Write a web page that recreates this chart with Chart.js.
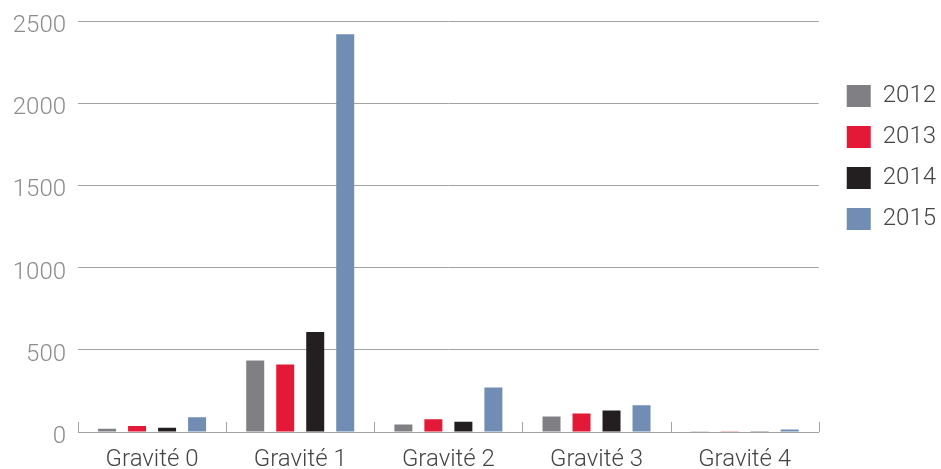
<!DOCTYPE html>
<html>
<head>
<meta charset="utf-8">
<script src="https://cdn.jsdelivr.net/npm/chart.js@4.4.1/dist/chart.umd.min.js"></script>
<style>
    html, body { margin: 0; padding: 0; background: #fff; }
    #wrap { width: 941px; height: 469px; position: relative; }
</style>
</head>
<body>
<div id="wrap"><canvas id="gravity-chart"></canvas></div>
<script>
const categories = ['Gravité 0', 'Gravité 1', 'Gravité 2', 'Gravité 3', 'Gravité 4']
const years = ['2012', '2013', '2014', '2015']
const values2012 = [20, 435, 46, 95, 4]
const values2013 = [36, 411, 77, 113, 4]
const values2014 = [26, 608, 63, 131, 4]
const values2015 = [89, 2420, 271, 162, 15]
const yTicks = [0, 500, 1000, 1500, 2000, 2500]
const colors = ['#808084', '#e31937', '#231f20', '#728db4']

const gridColor = '#a3a3a3'

// little upward ticks between the categories
const categoryTicks = {
    id: 'categoryTicks',
    afterLayout(chart) {
        // push the legend a bit further from the plot
        chart.legend.left += 11
        chart.legend.right += 11
    },
    afterDraw(chart) {
        const area = chart.chartArea
        const n = categories.length
        const step = (area.right - area.left) / n
        const ctx = chart.ctx
        ctx.save()
        ctx.strokeStyle = gridColor
        ctx.lineWidth = 1
        for (let i = 0; i <= n; i++) {
            const x = Math.round(area.left + i * step) + 0.5
            ctx.beginPath()
            ctx.moveTo(x, area.bottom)
            ctx.lineTo(x, area.bottom - 10)
            ctx.stroke()
        }
        ctx.restore()
    }
}

Chart.defaults.font.family = 'Roboto'
Chart.defaults.font.weight = '300'
Chart.defaults.font.size = 24

const seriesValues = [values2012, values2013, values2014, values2015]
const datasets = years.map((year, i) => ({
    label: year,
    data: seriesValues[i],
    backgroundColor: colors[i],
    borderWidth: 0,
    categoryPercentage: 0.81,
    barPercentage: 0.6
}))

const ctx = document.getElementById('gravity-chart')
const myChart = new Chart(ctx, {
    type: 'bar',
    data: {
        labels: categories,
        datasets: datasets
    },
    options: {
        responsive: true,
        maintainAspectRatio: false,
        animation: false,
        layout: {
            padding: { left: 0, right: 6, top: 21, bottom: 0 }
        },
        scales: {
            x: {
                grid: { display: false },
                border: { display: true, color: gridColor, width: 1 },
                ticks: { color: '#444', padding: 6 },
                afterFit: axis => { axis.height = 37 }
            },
            y: {
                min: 0,
                max: 2500,
                afterBuildTicks: axis => {
                    axis.ticks = yTicks.map(v => ({ value: v }))
                },
                afterFit: axis => {
                    axis.width = 78
                    axis.paddingTop = 0
                    axis.paddingBottom = 0
                },
                grid: { color: gridColor, drawTicks: false },
                border: { display: false },
                ticks: {
                    color: '#8c8c8c',
                    padding: 12,
                    labelOffset: 5,
                    callback: value => String(value)
                }
            }
        },
        plugins: {
            legend: {
                position: 'right',
                align: 'start',
                title: {
                    display: true,
                    text: ' ',
                    font: { size: 10 },
                    padding: { top: 34, bottom: 0 }
                },
                labels: {
                    boxWidth: 24,
                    boxHeight: 22,
                    padding: 17,
                    color: '#444'
                }
            },
            tooltip: { enabled: false }
        }
    },
    plugins: [categoryTicks]
})
</script>
</body>
</html>
